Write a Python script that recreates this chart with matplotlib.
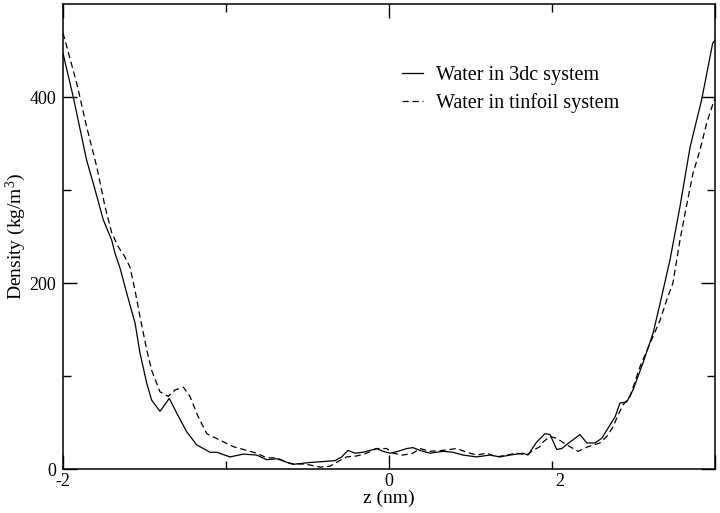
import matplotlib
matplotlib.use("Agg")
import matplotlib.pyplot as plt

# ---- data ----
z_3dc = [-2.000, -1.937, -1.855, -1.814, -1.753, -1.701, -1.681, -1.650, -1.609, -1.558,
         -1.528, -1.486, -1.456, -1.405, -1.348, -1.302, -1.241, -1.180, -1.098, -1.057,
         -0.975, -0.894, -0.812, -0.750, -0.689, -0.589, -0.485, -0.405, -0.331, -0.290,
         -0.252, -0.209, -0.160, -0.117, -0.075, -0.037, 0.006, 0.055, 0.109, 0.147,
         0.190, 0.252, 0.331, 0.393, 0.454, 0.538, 0.620, 0.681, 0.742, 0.822,
         0.853, 0.906, 0.957, 0.988, 1.029, 1.060, 1.110, 1.172, 1.213, 1.264,
         1.305, 1.344, 1.387, 1.417, 1.458, 1.497, 1.558, 1.620, 1.663, 1.724,
         1.785, 1.847, 1.918, 1.957, 1.986, 2.000]
rho_3dc = [447, 400, 332, 307, 268, 246, 232, 216, 189, 157,
           125, 92, 74, 62, 76, 60, 40, 26, 18, 18,
           13, 16, 15, 10, 11, 5, 7, 8, 9, 13,
           20, 17, 18, 20, 22, 19, 17, 19, 22, 23,
           20, 17, 19, 18, 15, 13, 15, 13, 15, 17,
           15, 29, 38, 37, 21, 22, 29, 37, 28, 28,
           33, 44, 56, 71, 72, 85, 114, 146, 178, 225,
           282, 346, 397, 432, 458, 461]

z_tin = [-2.000, -1.916, -1.855, -1.793, -1.742, -1.701, -1.661, -1.620, -1.589, -1.558,
         -1.528, -1.486, -1.456, -1.405, -1.354, -1.313, -1.262, -1.221, -1.170, -1.118,
         -1.037, -0.955, -0.873, -0.812, -0.750, -0.689, -0.607, -0.505, -0.423, -0.362,
         -0.313, -0.260, -0.198, -0.137, -0.075, -0.014, 0.025, 0.086, 0.147, 0.190,
         0.252, 0.331, 0.415, 0.477, 0.538, 0.599, 0.661, 0.722, 0.783, 0.845,
         0.883, 0.926, 0.945, 0.988, 1.029, 1.090, 1.160, 1.221, 1.294, 1.336,
         1.374, 1.405, 1.436, 1.479, 1.540, 1.601, 1.663, 1.704, 1.742, 1.785,
         1.824, 1.865, 1.908, 1.949, 1.988, 2.000]
rho_tin = [469, 415, 368, 325, 282, 254, 239, 228, 217, 192,
           164, 128, 106, 83, 78, 85, 88, 78, 56, 38,
           31, 24, 20, 17, 12, 12, 6, 5, 2, 3,
           8, 13, 14, 17, 22, 22, 17, 15, 17, 22,
           19, 20, 22, 18, 15, 17, 13, 15, 17, 15,
           20, 24, 29, 35, 33, 26, 19, 24, 28, 35,
           45, 58, 69, 78, 110, 135, 160, 182, 200, 246,
           282, 318, 343, 372, 393, 398]

series_labels = ["Water in 3dc system", "Water in tinfoil system"]
x_major = [-2, 0, 2]
x_major_labels = ["-2", "0", ""]
x_minor = [-1, 1, 1.045]
x_minor_labels = ["", "", "2"]
y_major = [0, 200, 400]
y_minor = [100, 300]

plt.rcParams['font.family'] = ['Liberation Serif', 'DejaVu Serif']
plt.rcParams['mathtext.fontset'] = 'custom'
plt.rcParams['mathtext.rm'] = 'Liberation Serif'
plt.rcParams['mathtext.it'] = 'Liberation Serif:italic'

fig = plt.figure(figsize=(7.2, 5.13), dpi=100)
ax = fig.add_axes([63/720, 44/513, 652/720, 465/513])

ax.plot(z_3dc, rho_3dc, color='black', lw=0.9, ls='-', label=series_labels[0])
ax.plot(z_tin, rho_tin, color='black', lw=0.9, ls=(0, (5, 3)), label=series_labels[1])

ax.set_xlim(-2, 2)
ax.set_ylim(0, 500)

ax.set_xticks(x_major, x_major_labels)
ax.set_xticks(x_minor, x_minor_labels, minor=True)
ax.set_yticks(y_major, [str(v) for v in y_major])
ax.set_yticks(y_minor, minor=True)

ax.tick_params(which='both', direction='in', top=True, right=True, labelsize=13, width=1.0, color='black')
ax.tick_params(axis='x', which='both', pad=3)
ax.tick_params(axis='y', which='both', pad=5)
ax.tick_params(which='major', length=10)
ax.tick_params(which='minor', length=6)
for s in ax.spines.values():
    s.set_linewidth(1.1)

# the "2" label sits slightly right of the x=1 minor tick in the reference; hide its own tick mark
mt = ax.xaxis.get_minor_ticks()
if len(mt) >= 3:
    mt[2].tick1line.set_visible(False)
    mt[2].tick2line.set_visible(False)

ax.set_xlabel('z (nm)', fontsize=14, labelpad=0)
ax.set_ylabel('Density (kg/m$^{3}$)', fontsize=14, labelpad=1)

ax.legend(loc='upper left', bbox_to_anchor=((402-63)/652, (469-66)/465), frameon=False,
          fontsize=14.5, handlelength=1.05, handletextpad=0.65, labelspacing=0.4,
          borderpad=0, borderaxespad=0)

fig.savefig('out.png', dpi=100)
